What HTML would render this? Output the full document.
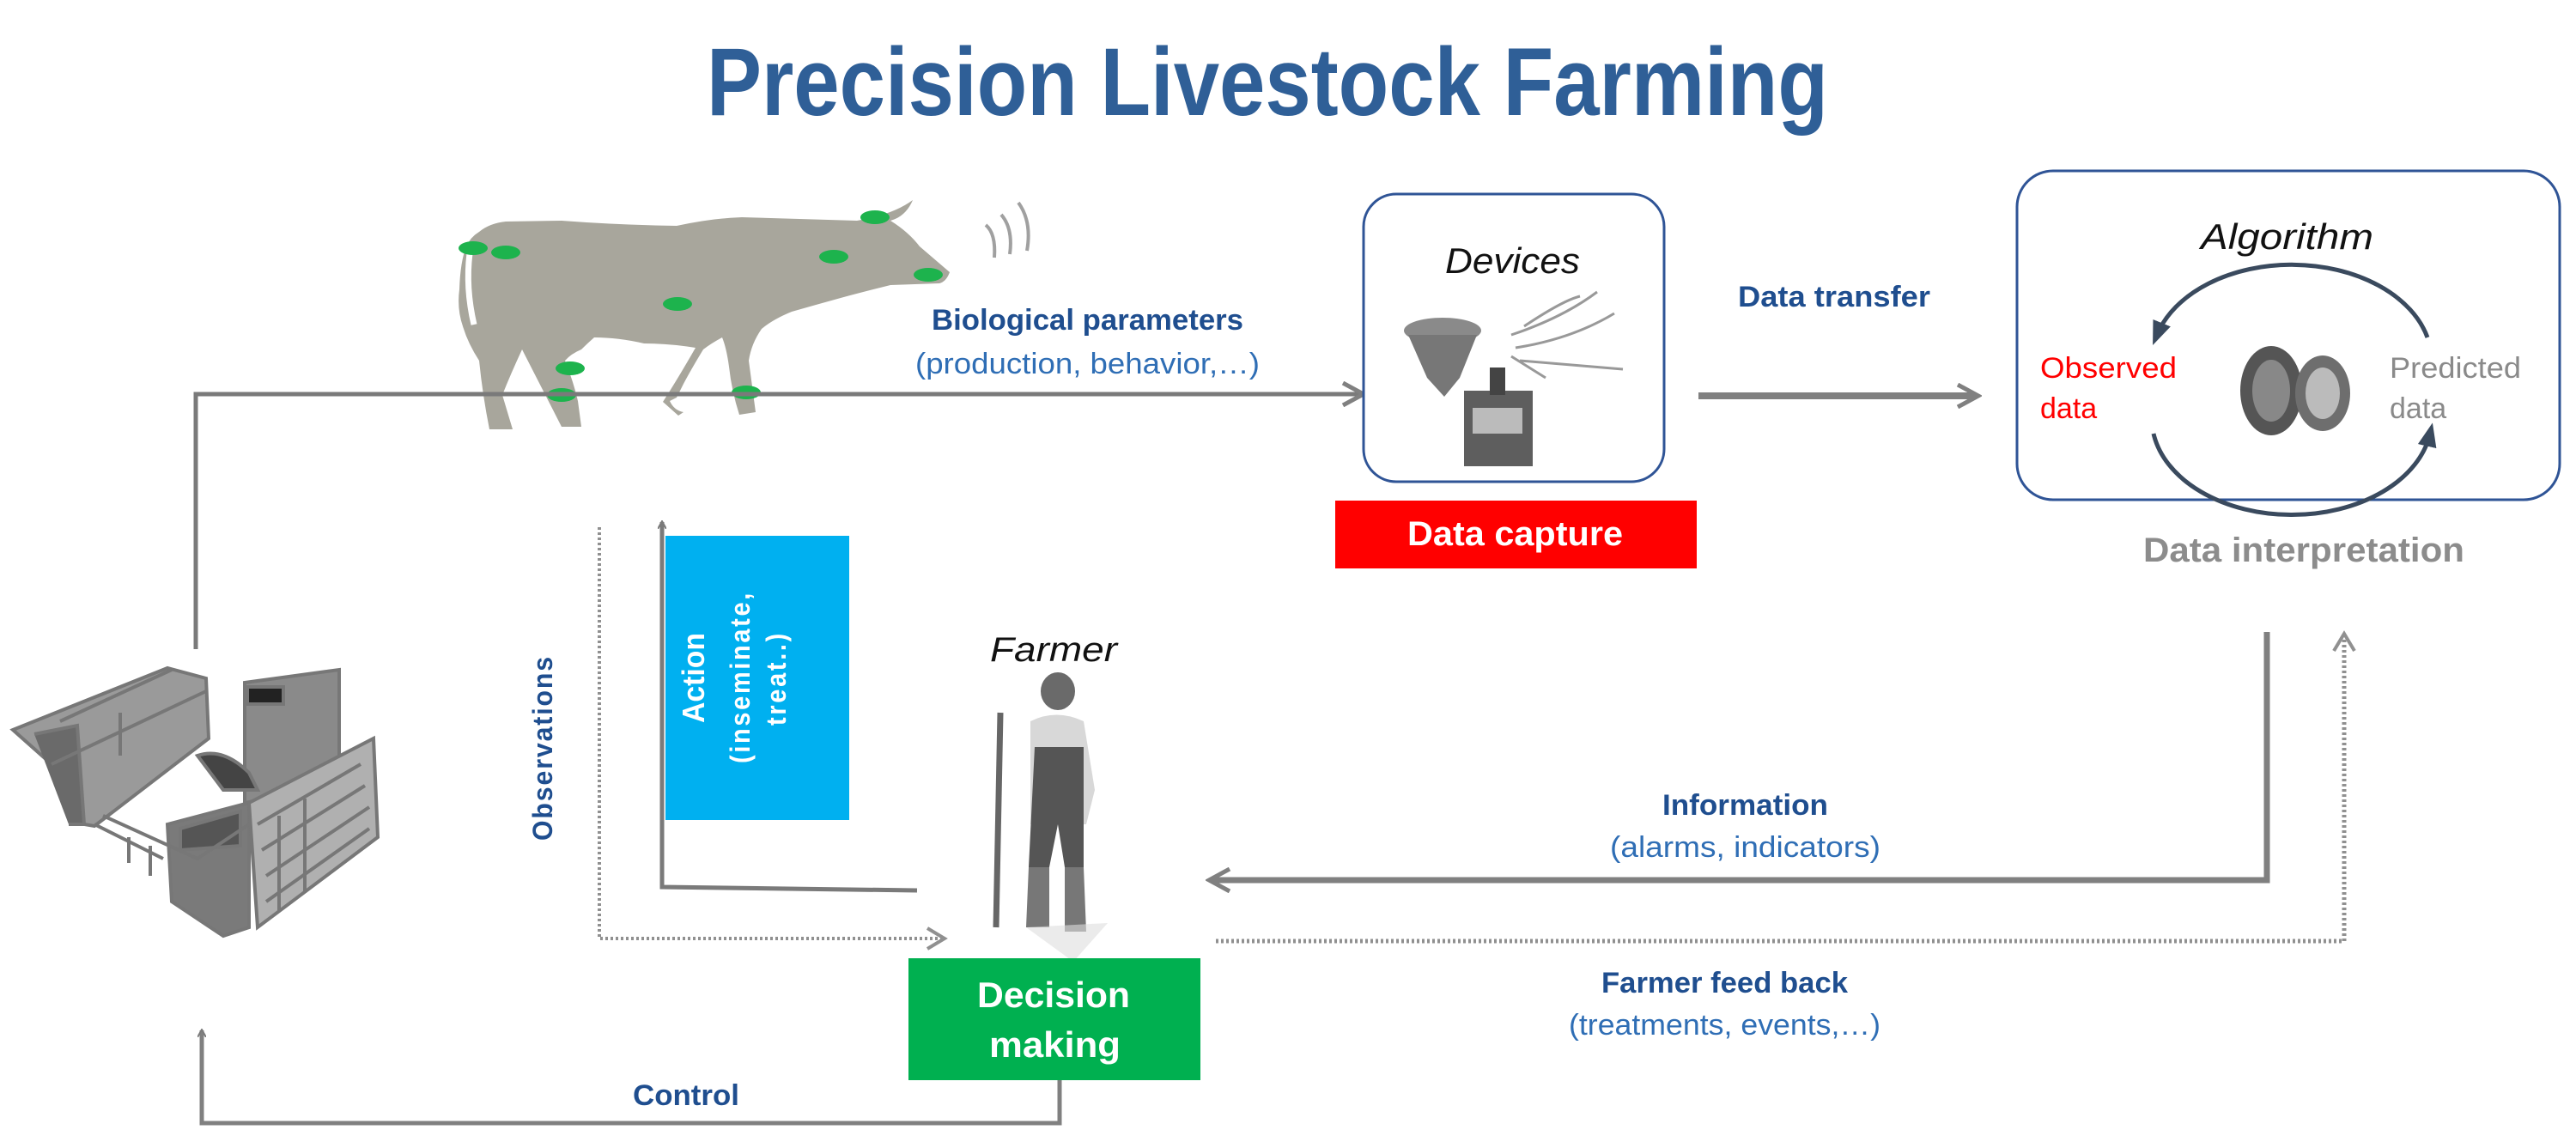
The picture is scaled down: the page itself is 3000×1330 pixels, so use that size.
<!DOCTYPE html>
<html><head><meta charset="utf-8"><style>html,body{margin:0;padding:0;background:#fff}svg{display:block}</style></head>
<body>
<svg width="3000" height="1330" viewBox="0 0 3000 1330" xmlns="http://www.w3.org/2000/svg" font-family="Liberation Sans, sans-serif">
<defs>
<marker id="ah" markerWidth="10" markerHeight="10" refX="8" refY="5" orient="auto" markerUnits="userSpaceOnUse"><path d="M0,0 L9,5 L0,10" fill="none" stroke="#7a7a7a" stroke-width="2"/></marker>
<marker id="ahb" markerWidth="30" markerHeight="30" refX="24" refY="15" orient="auto" markerUnits="userSpaceOnUse"><path d="M2,2 L26,15 L2,28" fill="none" stroke="#808080" stroke-width="5"/></marker>
<marker id="ahd" markerWidth="28" markerHeight="28" refX="22" refY="14" orient="auto" markerUnits="userSpaceOnUse"><path d="M4,2 L24,14 L4,26" fill="none" stroke="#909090" stroke-width="4"/></marker>
<marker id="arc" markerWidth="30" markerHeight="30" refX="15" refY="15" orient="auto" markerUnits="userSpaceOnUse"><path d="M0,4 L28,15 L0,26 Z" fill="#3a4a5e"/></marker>
</defs>

<text x="823" y="134" font-size="112" font-weight="bold" fill="#2f5f97" textLength="1306" lengthAdjust="spacingAndGlyphs">Precision Livestock Farming</text>

<!-- cow -->
<path d="M558,270 Q570,260 589,258 L654,257 Q720,262 788,263 Q830,254 864,253 L998,257 Q1040,250 1063,233 Q1055,252 1037,257 Q1058,270 1071,287 Q1092,305 1106,317 Q1102,328 1094,330 L1037,332 Q1005,340 979,347 Q950,355 922,363 Q900,372 887,383 Q875,400 872,420 L880,480 L861,483 Q852,455 849,427 Q846,405 841,393 Q828,400 819,407 Q805,430 796,447 L788,463 L780,467 Q785,478 796,480 L790,484 L772,468 Q790,440 810,405 Q780,400 750,400 Q720,393 692,393 Q684,400 677,407 Q665,412 658,420 Q668,445 673,467 L677,497 L654,497 Q630,450 608,407 Q595,435 585,460 L597,500 L570,500 Q562,460 558,420 Q545,400 539,380 Q532,360 535,337 Q536,305 543,287 Q548,276 558,270 Z" fill="#a8a69c"/>
<path d="M547,295 Q542,335 552,378" stroke="#fff" stroke-width="7" fill="none"/>
<g fill="#1db34d">
<ellipse cx="551" cy="289" rx="17" ry="8"/><ellipse cx="589" cy="294" rx="17" ry="8"/><ellipse cx="971" cy="299" rx="17" ry="8"/>
<ellipse cx="1019" cy="253" rx="17" ry="8"/><ellipse cx="1081" cy="320" rx="17" ry="8"/><ellipse cx="789" cy="354" rx="17" ry="8"/>
<ellipse cx="664" cy="429" rx="17" ry="8"/><ellipse cx="654" cy="460" rx="17" ry="8"/><ellipse cx="869" cy="457" rx="17" ry="8"/>
</g>
<g fill="none" stroke="#a0a0a0" stroke-width="4">
<path d="M1148,262 Q1160,272 1158,300"/><path d="M1166,250 Q1180,266 1176,296"/><path d="M1186,236 Q1202,258 1196,292"/>
</g>

<!-- main top line -->
<path d="M228,756 L228,459 L1586,459" fill="none" stroke="#7a7a7a" stroke-width="5" marker-end="url(#ahb)"/>

<text x="1085" y="384" font-size="34" font-weight="bold" fill="#1f4e8f" textLength="363" lengthAdjust="spacingAndGlyphs">Biological  parameters</text>
<text x="1066" y="435" font-size="34" fill="#2f6eb5" textLength="401" lengthAdjust="spacingAndGlyphs">(production, behavior,…)</text>

<!-- devices box -->
<rect x="1588" y="226" width="350" height="335" rx="38" fill="#fff" stroke="#2f5496" stroke-width="3"/>
<text x="1683" y="318" font-size="42" font-style="italic" fill="#111" textLength="157" lengthAdjust="spacingAndGlyphs">Devices</text>
<g>
<ellipse cx="1680" cy="385" rx="45" ry="15" fill="#8a8a8a"/>
<path d="M1640,390 L1720,390 L1700,440 L1682,462 L1662,440 Z" fill="#777"/>
<path d="M1760,390 Q1820,370 1860,340 M1765,405 Q1830,395 1880,365 M1770,420 Q1830,425 1890,430 M1760,415 L1800,440 M1775,380 Q1820,350 1840,345" stroke="#999" stroke-width="3" fill="none"/>
<rect x="1705" y="455" width="80" height="88" fill="#5e5e5e"/>
<rect x="1715" y="475" width="58" height="30" fill="#bbb"/>
<rect x="1735" y="428" width="18" height="32" fill="#444"/>
</g>
<rect x="1555" y="583" width="421" height="79" fill="#ff0000"/>
<text x="1639" y="635" font-size="40" font-weight="bold" fill="#fff" textLength="251" lengthAdjust="spacingAndGlyphs">Data capture</text>

<text x="2024" y="357" font-size="34" font-weight="bold" fill="#1f4e8f" textLength="224" lengthAdjust="spacingAndGlyphs">Data transfer</text>
<path d="M1978,461 L2302,461" stroke="#808080" stroke-width="8" fill="none" marker-end="url(#ahb)"/>

<!-- algorithm box -->
<rect x="2349" y="199" width="632" height="383" rx="42" fill="#fff" stroke="#2f5496" stroke-width="3"/>
<text x="2563" y="290" font-size="42" font-style="italic" fill="#111" textLength="201" lengthAdjust="spacingAndGlyphs">Algorithm</text>
<path d="M2827,393 A163,112 0 0 0 2512,390" fill="none" stroke="#3a4a5e" stroke-width="5" marker-end="url(#arc)"/>
<path d="M2508,505 A163,112 0 0 0 2830,505" fill="none" stroke="#3a4a5e" stroke-width="5" marker-end="url(#arc)"/>
<text x="2376" y="440" font-size="34" fill="#ff0000" textLength="159" lengthAdjust="spacingAndGlyphs">Observed</text>
<text x="2376" y="487" font-size="34" fill="#ff0000">data</text>
<text x="2783" y="440" font-size="34" fill="#8a8a8a" textLength="153" lengthAdjust="spacingAndGlyphs">Predicted</text>
<text x="2783" y="487" font-size="34" fill="#8a8a8a">data</text>
<ellipse cx="2645" cy="455" rx="36" ry="52" fill="#555"/>
<ellipse cx="2645" cy="455" rx="22" ry="36" fill="#888"/>
<ellipse cx="2705" cy="458" rx="32" ry="44" fill="#6e6e6e"/>
<ellipse cx="2705" cy="458" rx="20" ry="30" fill="#bbb"/>
<text x="2496" y="654" font-size="40" font-weight="bold" fill="#8c8c8c" textLength="374" lengthAdjust="spacingAndGlyphs">Data interpretation</text>

<!-- robot -->
<g stroke="#777" stroke-width="4" fill="none">
<path d="M15,850 L195,778 L240,790 L243,860 L110,962 L98,960 L60,890 Z" fill="#9a9a9a"/>
<path d="M40,855 L90,845 L98,960 L80,960" fill="#6a6a6a"/>
<path d="M70,840 L200,780 M140,830 L140,880 M60,890 L240,805 M110,960 L190,1000"/>
<path d="M285,795 L395,780 L395,915 L285,935 Z" fill="#8a8a8a"/>
<path d="M288,800 L330,800 L330,820 L288,820 Z" fill="#222"/>
<path d="M230,880 Q260,870 290,900 L300,920 L260,920 Z" fill="#444"/>
<path d="M195,960 L290,935 L290,1080 L260,1090 L200,1050 Z" fill="#7a7a7a"/>
<path d="M210,965 L280,945 L280,985 L210,990 Z" fill="#555"/>
<path d="M290,935 L435,860 L440,975 L300,1080 Z" fill="#b0b0b0"/>
<path d="M300,960 L420,890 M305,990 L425,915 M310,1020 L430,940 M310,1050 L430,965 M325,950 L325,1060 M355,930 L355,1040"/>
<path d="M120,950 L230,1000 L290,960 M150,975 L150,1005 M175,985 L175,1020"/>
</g>

<!-- action -->
<rect x="775" y="624" width="214" height="331" fill="#00b0f0"/>
<g fill="#fff" font-weight="bold">
<text transform="translate(820,842) rotate(-90)" font-size="36" textLength="105" lengthAdjust="spacingAndGlyphs">Action</text>
<text transform="translate(873,889) rotate(-90)" font-size="32" textLength="201" lengthAdjust="spacingAndGlyphs" letter-spacing="3">(inseminate,</text>
<text transform="translate(915,845) rotate(-90)" font-size="32" textLength="110" lengthAdjust="spacingAndGlyphs" letter-spacing="3">treat..)</text>
</g>
<path d="M1068,1037 L771,1033 L771,608" fill="none" stroke="#7a7a7a" stroke-width="5" marker-end="url(#ah)"/>

<!-- observations -->
<path d="M698,614 L698,1093 L1098,1093" fill="none" stroke="#909090" stroke-width="4" stroke-dasharray="3,3" marker-end="url(#ahd)"/>
<text transform="translate(643,979) rotate(-90)" font-size="32" font-weight="bold" fill="#1f4e8f" textLength="216" lengthAdjust="spacingAndGlyphs" letter-spacing="2">Observations</text>

<!-- farmer -->
<text x="1153" y="770" font-size="40" font-style="italic" fill="#111" textLength="148" lengthAdjust="spacingAndGlyphs">Farmer</text>
<g>
<ellipse cx="1232" cy="805" rx="20" ry="22" fill="#6a6a6a"/>
<path d="M1200,840 Q1230,825 1262,840 L1275,920 L1265,960 L1200,960 Z" fill="#d8d8d8"/>
<path d="M1205,870 L1262,870 L1262,1010 L1240,1010 L1232,960 L1222,1010 L1198,1010 Z" fill="#555"/>
<path d="M1198,1010 L1222,1010 L1222,1080 L1195,1080 Z M1240,1010 L1262,1010 L1265,1085 L1240,1085 Z" fill="#777"/>
<path d="M1165,830 L1160,1080" stroke="#666" stroke-width="7"/>
<path d="M1195,1080 L1290,1075 L1250,1120 Z" fill="#ddd" opacity="0.6"/>
</g>

<!-- information -->
<path d="M2640,736 L2640,1025 L1410,1025" fill="none" stroke="#808080" stroke-width="7" marker-end="url(#ahb)"/>
<text x="1936" y="949" font-size="34" font-weight="bold" fill="#1f4e8f" textLength="193" lengthAdjust="spacingAndGlyphs">Information</text>
<text x="1875" y="998" font-size="34" fill="#2f6eb5" textLength="315" lengthAdjust="spacingAndGlyphs">(alarms, indicators)</text>

<!-- feedback -->
<path d="M1416,1096 L2730,1096 L2730,740" fill="none" stroke="#909090" stroke-width="5" stroke-dasharray="3,3" marker-end="url(#ahd)"/>
<text x="1865" y="1156" font-size="34" font-weight="bold" fill="#1f4e8f" textLength="287" lengthAdjust="spacingAndGlyphs">Farmer feed back</text>
<text x="1827" y="1205" font-size="34" fill="#2f6eb5" textLength="363" lengthAdjust="spacingAndGlyphs">(treatments, events,…)</text>

<!-- decision -->
<rect x="1058" y="1116" width="340" height="142" fill="#00b050"/>
<text x="1138" y="1173" font-size="42" font-weight="bold" fill="#fff" textLength="178" lengthAdjust="spacingAndGlyphs">Decision</text>
<text x="1152" y="1231" font-size="42" font-weight="bold" fill="#fff" textLength="153" lengthAdjust="spacingAndGlyphs">making</text>

<!-- control -->
<path d="M1234,1258 L1234,1308 L235,1308 L235,1200" fill="none" stroke="#808080" stroke-width="5" marker-end="url(#ah)"/>
<text x="737" y="1287" font-size="34" font-weight="bold" fill="#1f4e8f" textLength="124" lengthAdjust="spacingAndGlyphs">Control</text>
</svg>
</body></html>
